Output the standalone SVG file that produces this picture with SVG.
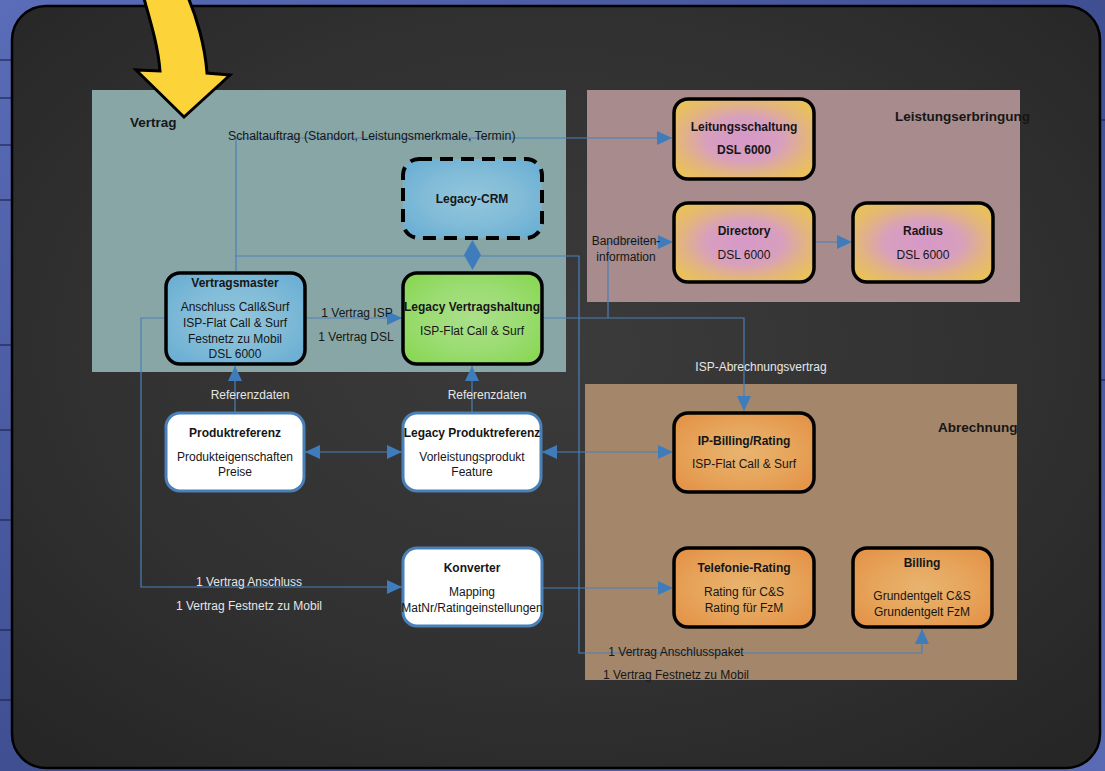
<svg xmlns="http://www.w3.org/2000/svg" width="1105" height="771" viewBox="0 0 1105 771">
<defs>
<linearGradient id="outer" x1="0" y1="0" x2="1" y2="1">
<stop offset="0" stop-color="#5b6cb8"/><stop offset="0.5" stop-color="#3f4f92"/><stop offset="1" stop-color="#5a6ab4"/>
</linearGradient>
<radialGradient id="board" cx="0.5" cy="0.45" r="0.7">
<stop offset="0" stop-color="#3b3b3b"/><stop offset="0.6" stop-color="#313131"/><stop offset="1" stop-color="#262626"/>
</radialGradient>
<radialGradient id="gBlue" cx="0.5" cy="0.5" r="0.6">
<stop offset="0" stop-color="#93c6dc"/><stop offset="0.6" stop-color="#80bbd7"/><stop offset="1" stop-color="#6db0d4"/>
</radialGradient>
<radialGradient id="gGreen" cx="0.5" cy="0.5" r="0.6">
<stop offset="0" stop-color="#abe08a"/><stop offset="0.6" stop-color="#9bdc72"/><stop offset="1" stop-color="#8bd858"/>
</radialGradient>
<radialGradient id="gPink" cx="0.5" cy="0.5" r="0.6">
<stop offset="0" stop-color="#d698c8"/><stop offset="0.45" stop-color="#d89fbe"/><stop offset="0.75" stop-color="#e2b480"/><stop offset="1" stop-color="#e9c05c"/>
</radialGradient>
<radialGradient id="gOrange" cx="0.5" cy="0.5" r="0.6">
<stop offset="0" stop-color="#e8b470"/><stop offset="0.6" stop-color="#e6a45a"/><stop offset="1" stop-color="#e4954a"/>
</radialGradient>
<marker id="ah" viewBox="0 0 15 14" refX="15" refY="7" markerWidth="15" markerHeight="14" markerUnits="userSpaceOnUse" orient="auto-start-reverse">
<path d="M0,0 L15,7 L0,14 Z" fill="#3f7cbc"/>
</marker>
<style>
text{font-family:"Liberation Sans",Arial,sans-serif;font-size:12px;fill:#161616}
.b{font-weight:bold}
.h{font-weight:bold;font-size:13.5px}
.m{text-anchor:middle}
.w{fill:#e6e6e6}
.dark{stroke:#000;stroke-width:3.5}
.wn{fill:#fff;stroke:#4a80b8;stroke-width:3}
.c{fill:none;stroke:#4a80b8;stroke-width:1.2}
.ce{fill:none;stroke:#4a80b8;stroke-width:1.2;marker-end:url(#ah)}
.cb{fill:none;stroke:#4a80b8;stroke-width:1.2;marker-end:url(#ah);marker-start:url(#ah)}
</style>
</defs>
<rect x="0" y="0" width="1105" height="771" fill="url(#outer)"/>
<g stroke="#1e2550" stroke-width="2" opacity="0.6">
<line x1="0" y1="60" x2="12" y2="60"/><line x1="0" y1="98" x2="12" y2="98"/><line x1="0" y1="145" x2="12" y2="145"/><line x1="0" y1="200" x2="12" y2="200"/><line x1="0" y1="345" x2="12" y2="345"/><line x1="0" y1="430" x2="12" y2="430"/><line x1="0" y1="520" x2="12" y2="520"/><line x1="0" y1="630" x2="12" y2="630"/><line x1="0" y1="700" x2="12" y2="700"/>
<line x1="1100" y1="120" x2="1105" y2="120"/><line x1="1100" y1="380" x2="1105" y2="380"/>
</g>
<rect x="12" y="6" width="1088" height="762" rx="34" fill="url(#board)" stroke="#000" stroke-width="2.5"/>

<g id="panels">
<rect id="panel-vertrag" x="92" y="90" width="474" height="282" fill="#88a6a5"/>
<rect id="panel-leistung" x="587" y="90" width="433" height="212" fill="#a78b8d"/>
<rect id="panel-abrechnung" x="585" y="384" width="432" height="296" fill="#a4866b"/>
<text class="h" x="130" y="127">Vertrag</text>
<text class="h" x="895" y="121">Leistungserbringung</text>
<text class="h" x="938" y="432">Abrechnung</text>
</g>

<g id="connectors">
<polyline class="ce" points="236,271 236,138 672,138"/>
<polyline class="ce" points="236,256 579,256 579,653 922,653 922,629"/>
<polyline class="ce" points="543,318 744,318 744,411"/>
<polyline class="ce" points="608,318 608,242 673,242"/>
<line class="ce" x1="815" y1="242" x2="852" y2="242"/>
<line class="ce" x1="306" y1="318" x2="402" y2="318"/>
<polyline class="ce" points="165,318 141,318 141,587 402,587"/>
<line class="ce" x1="543" y1="588" x2="673" y2="588"/>
<line class="ce" x1="235" y1="412" x2="235" y2="366"/>
<line class="ce" x1="472" y1="412" x2="472" y2="366"/>
<line class="cb" x1="305" y1="452" x2="402" y2="452"/>
<line class="cb" x1="542" y1="452" x2="673" y2="452"/>
<path d="M464,255 L481,255 L472.5,240 Z M464,255 L481,255 L472.5,270 Z" fill="#3f7cbc"/>
<text x="228" y="140" style="font-size:12.3px">Schaltauftrag (Standort, Leistungsmerkmale, Termin)</text>
<text class="m" x="626" y="245">Bandbreiten-</text>
<text class="m" x="626" y="261">information</text>
<text class="m" x="357" y="317">1 Vertrag ISP</text>
<text class="m" x="356" y="341">1 Vertrag DSL</text>
<text class="m w" x="250" y="399">Referenzdaten</text>
<text class="m w" x="487" y="399">Referenzdaten</text>
<text class="m w" x="761" y="371">ISP-Abrechnungsvertrag</text>
<text class="m w" x="249" y="586">1 Vertrag Anschluss</text>
<text class="m w" x="249" y="610">1 Vertrag Festnetz zu Mobil</text>
<text class="m" x="676" y="656">1 Vertrag Anschlusspaket</text>
<text class="m" x="676" y="679">1 Vertrag Festnetz zu Mobil</text>
</g>

<g id="legacy-crm">
<rect x="403" y="159" width="139" height="79" rx="16" fill="url(#gBlue)" stroke="#000" stroke-width="4" stroke-dasharray="13 8"/>
<text class="b m" x="472" y="203">Legacy-CRM</text>
</g>
<g id="vertragsmaster">
<rect x="166" y="273" width="139" height="91" rx="14" fill="url(#gBlue)" class="dark"/>
<text class="b m" x="235" y="287">Vertragsmaster</text>
<text class="m" x="235" y="311">Anschluss Call&amp;Surf</text>
<text class="m" x="235" y="327">ISP-Flat Call &amp; Surf</text>
<text class="m" x="235" y="343">Festnetz zu Mobil</text>
<text class="m" x="235" y="358">DSL 6000</text>
</g>
<g id="legacy-vertragshaltung">
<rect x="403" y="273" width="139" height="91" rx="14" fill="url(#gGreen)" class="dark"/>
<text class="b m" x="472" y="311">Legacy Vertragshaltung</text>
<text class="m" x="472" y="335">ISP-Flat Call &amp; Surf</text>
</g>
<g id="leitungsschaltung">
<rect x="674" y="99" width="140" height="80" rx="14" fill="url(#gPink)" class="dark"/>
<text class="b m" x="744" y="131">Leitungsschaltung</text>
<text class="b m" x="744" y="154">DSL 6000</text>
</g>
<g id="directory">
<rect x="674" y="203" width="140" height="79" rx="14" fill="url(#gPink)" class="dark"/>
<text class="b m" x="744" y="235">Directory</text>
<text class="m" x="744" y="259">DSL 6000</text>
</g>
<g id="radius">
<rect x="853" y="203" width="140" height="79" rx="14" fill="url(#gPink)" class="dark"/>
<text class="b m" x="923" y="235">Radius</text>
<text class="m" x="923" y="259">DSL 6000</text>
</g>
<g id="produktreferenz">
<rect x="166" y="413" width="138" height="78" rx="14" class="wn"/>
<text class="b m" x="235" y="437">Produktreferenz</text>
<text class="m" x="235" y="461">Produkteigenschaften</text>
<text class="m" x="235" y="476">Preise</text>
</g>
<g id="legacy-produktreferenz">
<rect x="403" y="413" width="138" height="78" rx="14" class="wn"/>
<text class="b m" x="472" y="437">Legacy Produktreferenz</text>
<text class="m" x="472" y="461">Vorleistungsprodukt</text>
<text class="m" x="472" y="476">Feature</text>
</g>
<g id="ip-billing">
<rect x="674" y="413" width="140" height="79" rx="14" fill="url(#gOrange)" class="dark"/>
<text class="b m" x="744" y="445">IP-Billing/Rating</text>
<text class="m" x="744" y="468">ISP-Flat Call &amp; Surf</text>
</g>
<g id="konverter">
<rect x="403" y="548" width="139" height="78" rx="14" class="wn"/>
<text class="b m" x="472" y="572">Konverter</text>
<text class="m" x="472" y="596">Mapping</text>
<text class="m" x="472" y="612">MatNr/Ratingeinstellungen</text>
</g>
<g id="telefonie-rating">
<rect x="674" y="548" width="140" height="79" rx="14" fill="url(#gOrange)" class="dark"/>
<text class="b m" x="744" y="572">Telefonie-Rating</text>
<text class="m" x="744" y="596">Rating für C&amp;S</text>
<text class="m" x="744" y="612">Rating für FzM</text>
</g>
<g id="billing">
<rect x="853" y="548" width="139" height="79" rx="14" fill="url(#gOrange)" class="dark"/>
<text class="b m" x="922" y="567">Billing</text>
<text class="m" x="922" y="600">Grundentgelt C&amp;S</text>
<text class="m" x="922" y="616">Grundentgelt FzM</text>
</g>

<g id="pointer-arrow">
<path d="M143,-5 C150,20 158,45 160,71 L136,70 L184,117 L230,75 L207,73 C205,45 196,15 187,-5 Z" fill="#fdd33a" stroke="#000" stroke-width="3" stroke-linejoin="miter"/>
</g>
</svg>
